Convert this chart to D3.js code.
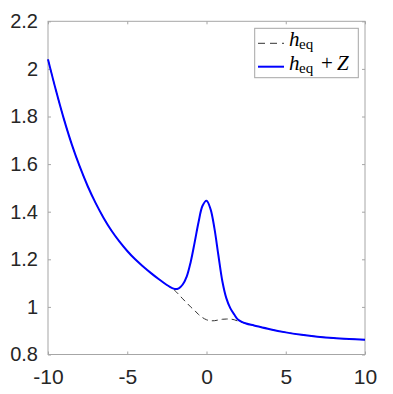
<!DOCTYPE html>
<html lang="en">
<head>
  <meta charset="UTF-8">
  <title>h_eq</title>
  <style>
    body { margin: 0; background: #fff; }
    .tick text { fill: #262626; }
  </style>
</head>
<body>
  <div id="main"></div>
  <script src="https://cdn.jsdelivr.net/npm/d3@7"></script>
  <script>
    // data
    let xs = [-10, -9.5, -9, -8.5, -8, -7.5, -7, -6.5, -6, -5.5, -5, -4.5, -4, -3.5, -3, -2.5,
      -2, -1.75, -1.5, -1.25, -1, -0.75, -0.5, -0.25, 0, 0.25, 0.5, 0.75, 1, 1.25, 1.5, 1.75, 2,
      2.5, 3, 4, 5, 6, 7, 8, 9, 10]
    let hEq = [2.04, 1.91, 1.79, 1.683, 1.59, 1.508, 1.437, 1.375, 1.321, 1.275, 1.235, 1.2, 1.17, 1.142, 1.116, 1.092,
      1.069, 1.052, 1.034, 1.017, 1.0, 0.985, 0.968, 0.955, 0.946, 0.942, 0.942, 0.945, 0.948, 0.949, 0.949, 0.946, 0.94,
      0.93, 0.922, 0.906, 0.893, 0.883, 0.875, 0.869, 0.865, 0.862]
    let hEqZ = [2.04, 1.91, 1.79, 1.683, 1.59, 1.508, 1.437, 1.375, 1.321, 1.275, 1.235, 1.2, 1.17, 1.142, 1.116, 1.092,
      1.075, 1.078, 1.094, 1.127, 1.188, 1.27, 1.357, 1.425, 1.446, 1.412, 1.33, 1.217, 1.108, 1.037, 0.995, 0.968, 0.946,
      0.93, 0.922, 0.906, 0.893, 0.883, 0.875, 0.869, 0.865, 0.862]
    let xTicks = [-10, -5, 0, 5, 10]
    let yTicks = [0.8, 1, 1.2, 1.4, 1.6, 1.8, 2, 2.2]

    let W = 393, H = 394
    let mLeft = 48, mRight = 365, mTop = 21.3, mBottom = 354.5

    let svg = d3.select('#main').append('svg')
      .attr('width', W)
      .attr('height', H)

    let x = d3.scaleLinear().domain([-10, 10]).range([mLeft, mRight])
    let y = d3.scaleLinear().domain([0.8, 2.2]).range([mBottom, mTop])

    let axisColor = '#a6a6a6'
    let tickFont = 'Helvetica, "Liberation Sans", Arial, sans-serif'

    // box
    svg.append('rect')
      .attr('x', mLeft).attr('y', mTop)
      .attr('width', mRight - mLeft).attr('height', mBottom - mTop)
      .attr('fill', 'none')
      .attr('stroke', axisColor)
      .attr('stroke-width', 1)

    // axes, ticks pointing inward; plain hyphen for negatives like the original
    let fmt = d => String(d)
    let gx = svg.append('g').attr('transform', `translate(0,${mBottom})`)
      .call(d3.axisBottom(x).tickValues(xTicks).tickSizeInner(-3).tickSizeOuter(0).tickPadding(15).tickFormat(fmt))
    let gxTop = svg.append('g').attr('transform', `translate(0,${mTop})`)
      .call(d3.axisTop(x).tickValues(xTicks).tickSizeInner(-3).tickSizeOuter(0).tickFormat(''))
    let gy = svg.append('g').attr('transform', `translate(${mLeft},0)`)
      .call(d3.axisLeft(y).tickValues(yTicks).tickSizeInner(-3).tickSizeOuter(0).tickPadding(10).tickFormat(fmt))
    let gyRight = svg.append('g').attr('transform', `translate(${mRight},0)`)
      .call(d3.axisRight(y).tickValues(yTicks).tickSizeInner(-3).tickSizeOuter(0).tickFormat(''))

    ;[gx, gxTop, gy, gyRight].forEach(g => {
      g.select('.domain').remove()
      g.selectAll('.tick line').attr('stroke', axisColor)
    })
    gx.selectAll('.tick text').attr('font-family', tickFont).attr('font-size', 21).attr('dy', '0.71em')
    gy.selectAll('.tick text').attr('font-family', tickFont).attr('font-size', 20)

    let line = d3.line()
      .x(d => x(d[0]))
      .y(d => y(d[1]))
      .curve(d3.curveCatmullRom)

    // dashed h_eq
    svg.append('path')
      .datum(xs.map((v, i) => [v, hEq[i]]))
      .attr('d', line)
      .attr('fill', 'none')
      .attr('stroke', '#333')
      .attr('stroke-width', 1)
      .attr('stroke-dasharray', '6 4')

    // h_eq + Z
    svg.append('path')
      .datum(xs.map((v, i) => [v, hEqZ[i]]))
      .attr('d', line)
      .attr('fill', 'none')
      .attr('stroke', '#0000ff')
      .attr('stroke-width', 2)

    // legend
    let lg = svg.append('g')
    lg.append('rect')
      .attr('x', 254.7).attr('y', 28.3)
      .attr('width', 103.6).attr('height', 49.4)
      .attr('fill', '#fff')
      .attr('stroke', axisColor)
      .attr('stroke-width', 1)
    lg.append('line')
      .attr('x1', 258).attr('x2', 284).attr('y1', 43.3).attr('y2', 43.3)
      .attr('stroke', '#333').attr('stroke-width', 1).attr('stroke-dasharray', '7 5')
    lg.append('line')
      .attr('x1', 258).attr('x2', 284).attr('y1', 66.7).attr('y2', 66.7)
      .attr('stroke', '#0000ff').attr('stroke-width', 2)

    let serif = '"Liberation Serif", "DejaVu Serif", serif'
    function legendLabel(ty, withZ) {
      let t = lg.append('text')
        .attr('y', ty)
        .attr('font-family', serif)
        .attr('font-size', 21)
        .attr('fill', '#000')
      t.append('tspan').attr('x', 289).attr('font-style', 'italic').text('h')
      t.append('tspan').attr('x', 299).attr('font-size', 15).attr('dy', 3.5).text('eq')
      if (withZ) {
        t.append('tspan').attr('x', 321).attr('dy', -3.5).text('+')
        t.append('tspan').attr('x', 337).attr('font-style', 'italic').text('Z')
      }
    }
    legendLabel(45.5, false)
    legendLabel(69.5, true)
  </script>
</body>
</html>
